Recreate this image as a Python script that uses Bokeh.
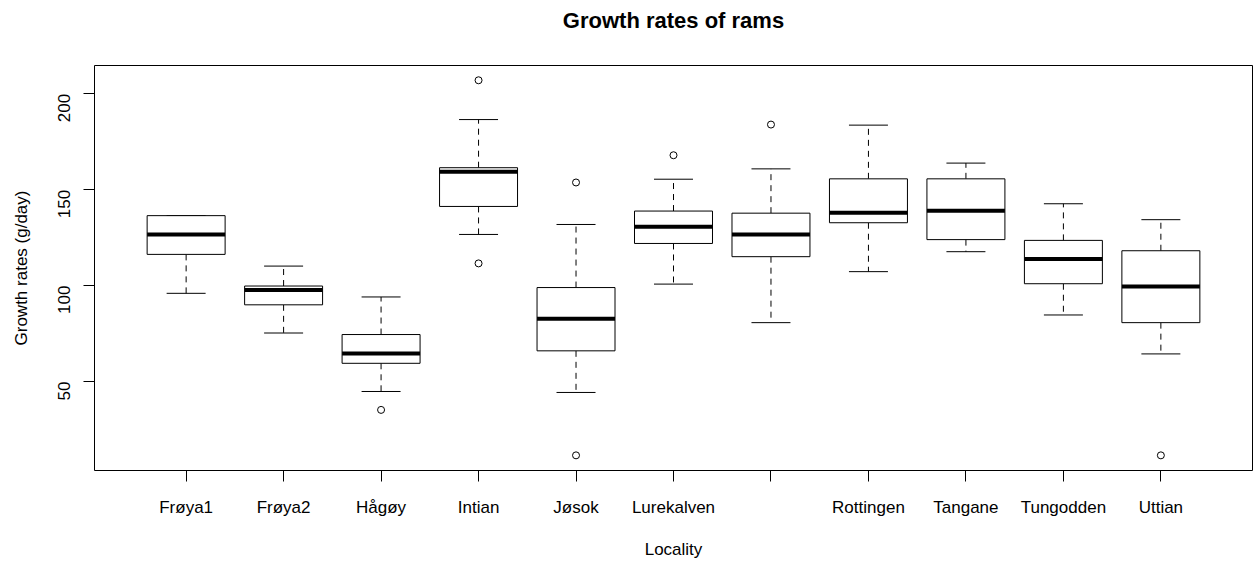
import math
from bokeh.plotting import figure
from bokeh.models import Range1d, FixedTicker, ColumnDataSource, Title
from bokeh.embed import file_html
from bokeh.resources import INLINE

# ---- data ----
title_text = "Growth rates of rams"
categories = ["Frøya1", "Frøya2", "Hågøy", "Intian", "Jøsok", "Lurekalven",
              "", "Rottingen", "Tangane", "Tungodden", "Uttian"]
lower_whisker = [96.0, 75.3, 44.8, 126.7, 44.3, 100.8, 80.7, 107.3, 117.7, 84.7, 64.4]
q1 = [116.3, 90.0, 59.5, 141.3, 66.0, 122.0, 115.1, 132.8, 124.0, 101.0, 80.7]
median = [126.7, 97.7, 64.6, 159.4, 82.8, 130.7, 126.7, 138.0, 139.1, 113.9, 99.5]
q3 = [136.5, 99.8, 74.5, 161.5, 99.0, 138.9, 137.8, 155.7, 155.7, 123.6, 118.2]
upper_whisker = [136.5, 110.2, 94.1, 186.6, 131.9, 155.5, 160.9, 183.7, 163.9, 142.7, 134.4]
outlier_group = [3, 4, 4, 5, 5, 6, 7, 11]
outlier_value = [35.2, 207.1, 111.6, 153.8, 11.5, 168.0, 184.0, 11.5]

y_ticks = [50, 100, 150, 200]

# ---- derived geometry ----
n = len(categories)
xs = list(range(1, n + 1))
box_w = 0.8
staple_w = 0.4

src = ColumnDataSource(dict(
    x=xs,
    lw=lower_whisker, q1=q1, med=median, q3=q3, uw=upper_whisker,
    bl=[x - box_w / 2 for x in xs], br=[x + box_w / 2 for x in xs],
    sl=[x - staple_w / 2 for x in xs], sr=[x + staple_w / 2 for x in xs],
))
out_src = ColumnDataSource(dict(x=outlier_group, y=outlier_value))

FONT = "Liberation Sans"

p = figure(width=1259, height=562, output_backend="svg", toolbar_location=None,
           x_range=Range1d(0.06, 11.94), y_range=Range1d(3.6, 214.8),
           min_border_left=94, min_border_right=7, min_border_top=65, min_border_bottom=92)

p.background_fill_color = "white"
p.border_fill_color = "white"
p.outline_line_color = "black"
p.outline_line_width = 1
p.xgrid.visible = False
p.ygrid.visible = False

# spacer panel next to the frame, then the real title above it
p.add_layout(Title(text=" ", text_font_size="1px", standoff=30), "above")
p.add_layout(Title(text=title_text, align="center", text_font=FONT,
                   text_font_size="22px", text_font_style="bold",
                   text_color="black", standoff=0), "above")

# whiskers (dashed)
p.segment(x0="x", y0="q3", x1="x", y1="uw", source=src, line_color="black",
          line_width=1, line_dash="6 5")
p.segment(x0="x", y0="q1", x1="x", y1="lw", source=src, line_color="black",
          line_width=1, line_dash="6 5")
# staples
p.segment(x0="sl", y0="uw", x1="sr", y1="uw", source=src, line_color="black", line_width=1)
p.segment(x0="sl", y0="lw", x1="sr", y1="lw", source=src, line_color="black", line_width=1)
# boxes
p.quad(left="bl", right="br", bottom="q1", top="q3", source=src,
       fill_color="white", line_color="black", line_width=1)
# medians
p.segment(x0="bl", y0="med", x1="br", y1="med", source=src, line_color="black",
          line_width=4)
# outliers
p.scatter(x="x", y="y", source=out_src, marker="circle", size=7,
          fill_color=None, line_color="black", line_width=1)

# axes
p.xaxis.ticker = FixedTicker(ticks=xs)
p.xaxis.major_label_overrides = {x: c for x, c in zip(xs, categories)}
p.yaxis.ticker = FixedTicker(ticks=y_ticks)
p.yaxis.major_label_orientation = math.pi / 2

for ax in (p.xaxis[0], p.yaxis[0]):
    ax.axis_line_color = None
    ax.major_tick_line_color = "black"
    ax.major_tick_out = 11
    ax.major_tick_in = 0
    ax.minor_tick_line_color = None
    ax.major_label_text_font = FONT
    ax.major_label_text_font_size = "17px"
    ax.major_label_text_color = "black"
    ax.axis_label_text_font = FONT
    ax.axis_label_text_font_size = "17px"
    ax.axis_label_text_font_style = "normal"
    ax.axis_label_text_color = "black"

p.xaxis.axis_label = "Locality"
p.yaxis.axis_label = "Growth rates (g/day)"
p.xaxis.major_label_standoff = 16
p.xaxis.axis_label_standoff = 20
p.yaxis.major_label_standoff = 19
p.yaxis.axis_label_standoff = 19

open("out.html", "w").write(file_html(p, INLINE))
